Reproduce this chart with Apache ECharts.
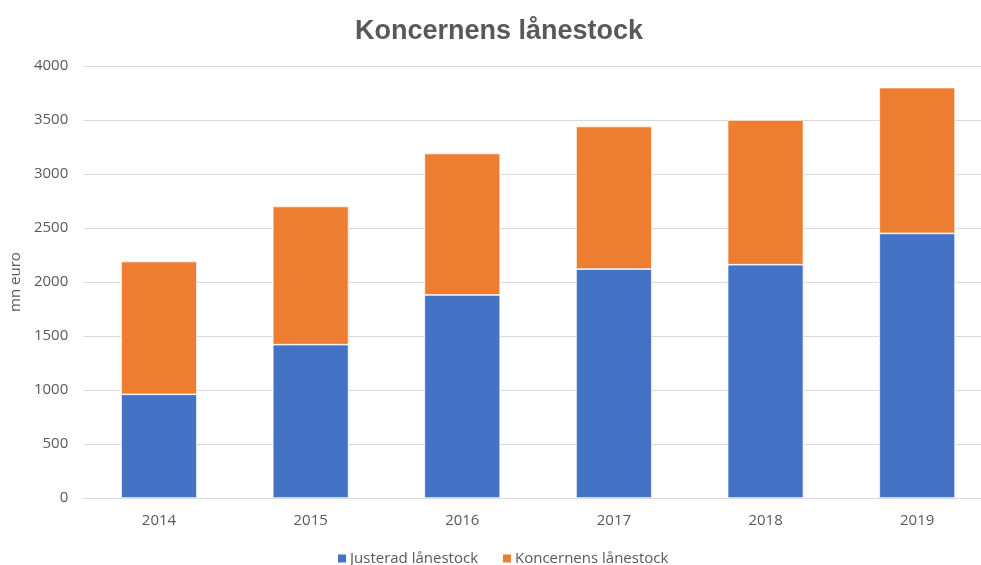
<!DOCTYPE html>
<html><head><meta charset="utf-8">
<script src="https://cdn.jsdelivr.net/npm/echarts@6/dist/echarts.min.js"></script>
<style>html,body{margin:0;padding:0;background:#fff;overflow:hidden;width:981px;height:565px}#c{width:1005px;height:565px}</style>
</head><body><div id="c"></div>
<script>
const categories = ['2014','2015','2016','2017','2018','2019'];
const justerad = [960, 1420, 1880, 2120, 2160, 2450];
const koncernTotal = [2190, 2700, 3190, 3440, 3500, 3800];
const koncernPart = koncernTotal.map((v,i)=>v-justerad[i]);
const yTicks = [0,500,1000,1500,2000,2500,3000,3500,4000];

const chart = echarts.init(document.getElementById('c'));
const font = '"Open Sans", "Liberation Sans", sans-serif';
chart.setOption({
  animation:false,
  title:{text:'Koncernens lånestock', left:494, top:13, textAlign:'center',
    textStyle:{fontFamily:'"Liberation Sans", Arial, sans-serif', fontWeight:'bold', fontSize:27, color:'#595959'}},
  grid:{left:81, right:12, top:66, bottom:67},
  legend:{top:546, left:331, itemWidth:10, itemHeight:10, itemGap:23, icon:'rect',
    textStyle:{fontFamily:font, fontSize:15, color:'#595959', padding:[0,0,0,-2]},
    data:['Justerad lånestock','Koncernens lånestock']},
  xAxis:{type:'category', data:categories,
    axisLine:{lineStyle:{color:'#d9d9d9', width:1}}, axisTick:{show:false},
    axisLabel:{fontFamily:font, fontSize:15, color:'#595959', margin:15}},
  yAxis:{type:'value', min:0, max:4000, interval:500,
    name:'mn euro', nameLocation:'middle', nameGap:57, nameRotate:90,
    nameTextStyle:{fontFamily:font, fontSize:15, color:'#595959'},
    axisLine:{show:false}, axisTick:{show:false},
    axisLabel:{fontFamily:font, fontSize:15, color:'#595959', margin:15,
      formatter:v=>yTicks.includes(v)?String(v):''},
    splitLine:{lineStyle:{color:'#d9d9d9', width:1}}},
  series:[
    {name:'Justerad lånestock', type:'bar', stack:'s', data:justerad, barWidth:'50%',
      itemStyle:{color:'#4472c4', borderColor:'#ffffff', borderWidth:0.7}},
    {name:'Koncernens lånestock', type:'bar', stack:'s', data:koncernPart, barWidth:'50%',
      itemStyle:{color:'#ed7d31', borderColor:'#ffffff', borderWidth:0.7}}
  ]
});
</script></body></html>
